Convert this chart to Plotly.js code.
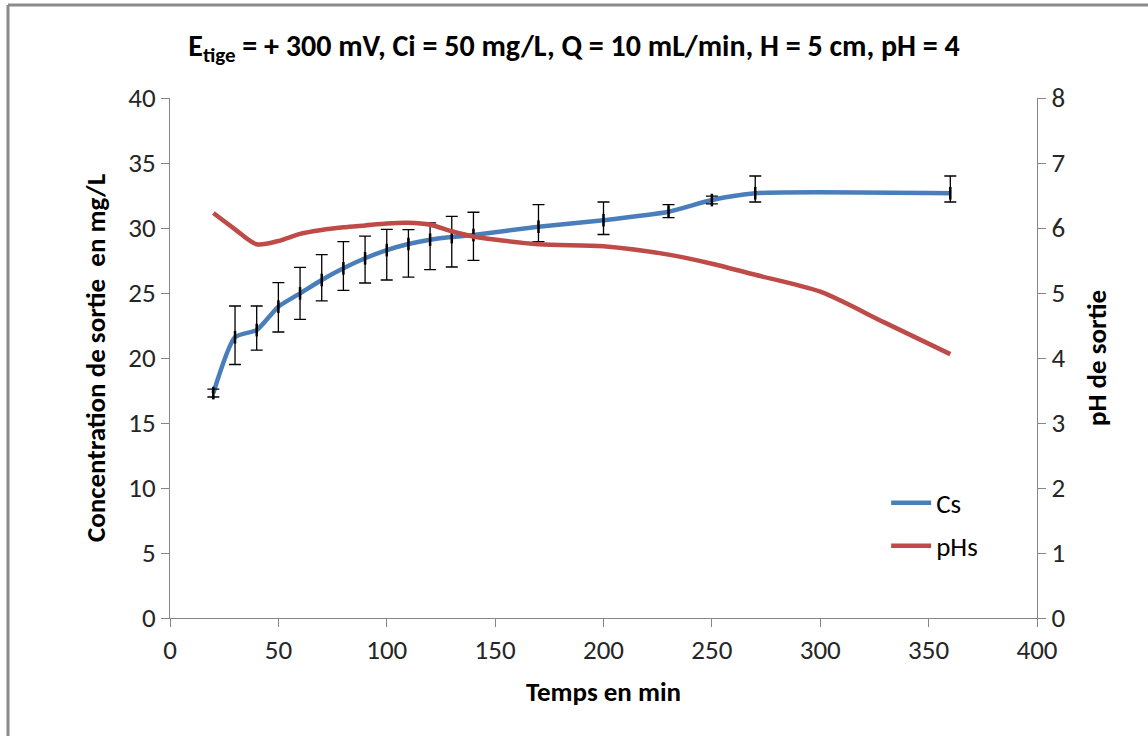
<!DOCTYPE html>
<html>
<head>
<meta charset="utf-8">
<script src="https://cdn.plot.ly/plotly-3.0.1.min.js"></script>
<style>
  html, body { margin: 0; padding: 0; background: #fff; }
  #chart { width: 1148px; height: 736px; }
</style>
</head>
<body>
<div id="chart"></div>
<script>
// Cs (outlet concentration, mg/L) measured times and values with error bars
const csTimes   = [20, 30, 40, 50, 60, 70, 80, 90, 100, 110, 120, 130, 140, 170, 200, 230, 250, 270, 360];
const csValues  = [17.3, 21.6, 22.15, 23.95, 24.97, 26.0, 26.9, 27.67, 28.3, 28.77, 29.1, 29.3, 29.46, 30.1, 30.6, 31.25, 32.15, 32.67, 32.67];
const csErrPlus = [0.3, 2.4, 1.85, 1.85, 2.0, 1.95, 2.05, 1.7, 1.6, 1.1, 1.3, 1.6, 1.75, 1.7, 1.4, 0.55, 0.3, 1.33, 1.33];
const csErrMinus= [0.3, 2.1, 1.55, 1.95, 2.0, 1.6, 1.7, 1.9, 2.3, 2.55, 2.3, 2.3, 1.95, 1.15, 1.1, 0.45, 0.3, 0.67, 0.67];

// pHs (outlet pH)
const phTimes  = [20, 30, 40, 50, 60, 70, 80, 90, 100, 110, 120, 130, 140, 170, 200, 230, 250, 270, 300, 330, 360];
const phValues = [6.23, 5.98, 5.75, 5.80, 5.91, 5.97, 6.01, 6.04, 6.07, 6.08, 6.05, 5.95, 5.87, 5.75, 5.72, 5.59, 5.45, 5.28, 5.02, 4.54, 4.06];

const xTicks  = [0, 50, 100, 150, 200, 250, 300, 350, 400];
const yTicks  = [0, 5, 10, 15, 20, 25, 30, 35, 40];
const y2Ticks = [0, 1, 2, 3, 4, 5, 6, 7, 8];

const titleText = "E<sub>tige</sub> = + 300 mV, Ci = 50 mg/L, Q = 10 mL/min, H = 5 cm, pH = 4";
const xTitle = "Temps en min";
const yTitle = "Concentration de sortie  en mg/L";
const y2Title = "pH de sortie";
const seriesNames = ["Cs", "pHs"];

const FONT = "Carlito, 'Liberation Sans Narrow', 'Liberation Sans', Arial, sans-serif";
const AXIS_COLOR = "#868686";
const TICK_FONT = {family: FONT, size: 27, color: "#262626"};
const AXT_FONT = {family: FONT, size: 27, color: "#000", weight: "bold"};

const traces = [
  {
    x: csTimes, y: csValues, name: seriesNames[0], type: "scatter", mode: "lines",
    line: {color: "#4A7EBB", width: 4.5, shape: "spline", smoothing: 0.6},
    legendgroup: "a", yaxis: "y"
  },
  {
    x: phTimes, y: phValues, name: seriesNames[1], type: "scatter", mode: "lines",
    line: {color: "#BE4B48", width: 4.5, shape: "spline", smoothing: 0.8},
    legendgroup: "b", yaxis: "y2"
  },
  {
    x: csTimes, y: csValues, name: "err", type: "scatter", mode: "markers",
    showlegend: false, hoverinfo: "skip",
    marker: {symbol: "line-ns-open", size: 9, color: "#000", line: {color: "#000", width: 2.5}},
    error_y: {type: "data", symmetric: false, array: csErrPlus, arrayminus: csErrMinus,
              color: "#000", thickness: 1.3, width: 6},
    yaxis: "y"
  }
];

const layout = {
  width: 1148, height: 736,
  paper_bgcolor: "#fff", plot_bgcolor: "#fff",
  margin: {l: 170, r: 111, t: 98, b: 118},
  font: {family: FONT, color: "#262626"},
  title: {
    text: titleText, font: {family: FONT, size: 30, color: "#000", weight: "bold"},
    x: 0.5, xref: "container", xanchor: "center",
    y: 1 - 45/736, yref: "container", yanchor: "middle"
  },
  xaxis: {
    range: [0, 400], tickvals: xTicks, ticktext: xTicks.map(String),
    showgrid: false, zeroline: false, showline: true, linecolor: AXIS_COLOR, linewidth: 1,
    ticks: "outside", ticklen: 8, tickcolor: AXIS_COLOR, tickwidth: 1,
    tickfont: TICK_FONT,
    title: {text: xTitle, font: AXT_FONT, standoff: 16}
  },
  yaxis: {
    range: [0, 40], tickvals: yTicks, ticktext: yTicks.map(String),
    showgrid: false, zeroline: false, showline: true, linecolor: AXIS_COLOR, linewidth: 1,
    ticks: "outside", ticklen: 8, tickcolor: AXIS_COLOR, tickwidth: 1,
    tickfont: TICK_FONT,
    title: {text: yTitle, font: AXT_FONT, standoff: 14}
  },
  yaxis2: {
    range: [0, 8], tickvals: y2Ticks, ticktext: y2Ticks.map(String),
    overlaying: "y", side: "right",
    showgrid: false, zeroline: false, showline: true, linecolor: AXIS_COLOR, linewidth: 1,
    ticks: "outside", ticklen: 8, tickcolor: AXIS_COLOR, tickwidth: 1,
    tickfont: TICK_FONT,
    title: {text: y2Title, font: AXT_FONT, standoff: 22}
  },
  showlegend: true,
  legend: {
    x: 0.826, y: 0.268, xanchor: "left", yanchor: "top",
    bgcolor: "rgba(0,0,0,0)", borderwidth: 0,
    font: {family: FONT, size: 27, color: "#000"},
    traceorder: "grouped", tracegroupgap: 5, itemwidth: 40
  },
  shapes: [
    {type: "line", xref: "paper", yref: "paper", x0: (8-170)/867, x1: (1148-170)/867 + 0.05,
     y0: (618-5)/520, y1: (618-5)/520, line: {color: "#8a8a8a", width: 3}},
    {type: "line", xref: "paper", yref: "paper", x0: (8-170)/867, x1: (8-170)/867,
     y0: (618-5)/520, y1: (618-740)/520, line: {color: "#8a8a8a", width: 3}}
  ]
};

Plotly.newPlot("chart", traces, layout, {displayModeBar: false, staticPlot: true});
</script>
</body>
</html>
